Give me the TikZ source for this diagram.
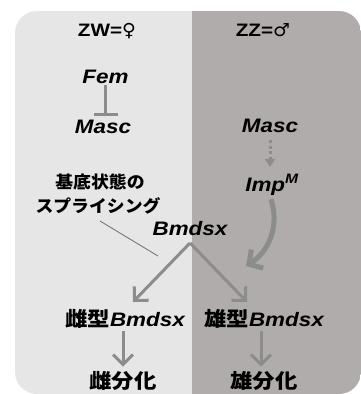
\documentclass[tikz,border=0pt]{standalone}
\usepackage{fontspec}
\usetikzlibrary{arrows.meta}
\newfontfamily\latf{Liberation Sans}[FakeStretch=1.15]
\newfontfamily\symf{DejaVu Sans}[FakeStretch=1.05]
\newfontfamily\jpf{Noto Sans CJK JP}[FakeStretch=1.12]
\newfontfamily\jpn{Noto Sans CJK JP}[FakeStretch=1.05]
\definecolor{bgL}{HTML}{E6E6E6}
\definecolor{bgR}{HTML}{B0ACAB}
\definecolor{arr}{HTML}{8C8C8C}
\definecolor{pointer}{HTML}{6E6E6E}
\begin{document}
\begin{tikzpicture}[x=1pt,y=-1pt,
  lbl/.style={inner sep=0pt, anchor=base, font=\latf\bfseries\fontsize{18}{20}\selectfont},
  gene/.style={inner sep=0pt, anchor=base, font=\latf\bfseries\itshape\fontsize{19.5}{22}\selectfont},
  kj/.style={inner sep=0pt, anchor=base, font=\jpf\bfseries\fontsize{20}{22}\selectfont},
  note/.style={inner sep=0pt, anchor=base, font=\jpn\bfseries\fontsize{17}{19}\selectfont},
  thickarrow/.style={draw=arr, line width=3pt, -{Straight Barb[length=10pt,width=20pt]}},
  curvearrow/.style={draw=arr, line width=5pt, -{Straight Barb[length=10pt,width=22pt]}},
  dotarrow/.style={draw=arr, line width=3pt, dash pattern=on 3pt off 2.5pt, -{Triangle[length=8pt,width=10pt]}},
  inhibit/.style={draw=arr, line width=3pt, -{Bar[width=24pt]}},
  pointerline/.style={draw=pointer, line width=0.8pt}]
\useasboundingbox (0,0) rectangle (361,394);
\begin{scope}
  \clip[rounded corners=22pt] (15,11) rectangle (361,394);
  \fill[bgL] (15,11) rectangle (192,394);
  \fill[bgR] (192,11) rectangle (361,394);
\end{scope}
% headers
\node[lbl] (zw) at (107,36) {ZW={\symf\bfseries ♀}};
\node[lbl] (zz) at (263,36) {ZZ={\symf\bfseries ♂}};
% genes
\node[gene] (fem) at (105.5,83) {Fem};
\node[gene] (mascL) at (103,133) {Masc};
\node[gene] (mascR) at (270,132) {Masc};
\node[gene] (imp) at (272,191) {Imp\textsuperscript{M}};
\node[note] (note1) at (100,188) {基底状態の};
\node[note] (note2) at (98,212) {スプライシング};
\node[gene] (bmdsx) at (190,235) {Bmdsx};
\coordinate (split) at (190,243);
\coordinate (pstart) at (100,221);
\coordinate (pend) at (158,256);
\coordinate (tipL) at (133,302);
\coordinate (tipR) at (247,302);
\coordinate (curveEnd) at (246,266);
\node[kj] (femB) at (125,326) {雌型{\latf\itshape\fontsize{19.5}{22}\selectfont Bmdsx}};
\node[kj] (masB) at (264,326) {雄型{\latf\itshape\fontsize{19.5}{22}\selectfont Bmdsx}};
\node[kj] (femD) at (123,388) {雌分化};
\node[kj] (masD) at (264,388) {雄分化};
% connectors
\draw[inhibit, shorten <=2pt, shorten >=3pt] (fem.south) -- (fem.south |- mascL.north);
\draw[dotarrow, shorten <=8pt, shorten >=7pt] (mascR.south) -- (mascR.south |- imp.north);
\draw[pointerline] (pstart) -- (pend);
\draw[thickarrow] (split) -- (tipL);
\draw[thickarrow] (split) -- (tipR);
\draw[curvearrow] ([xshift=-1pt,yshift=-4pt]imp.south) .. controls +(9,28) and +(22,-14) .. (curveEnd);
\draw[thickarrow, shorten <=3pt, shorten >=4pt] (femD.north |- femB.south) -- (femD.north);
\draw[thickarrow, shorten <=3pt, shorten >=4pt] ([xshift=-3pt]masD.north |- masB.south) -- ([xshift=-3pt]masD.north);
\end{tikzpicture}
\end{document}
